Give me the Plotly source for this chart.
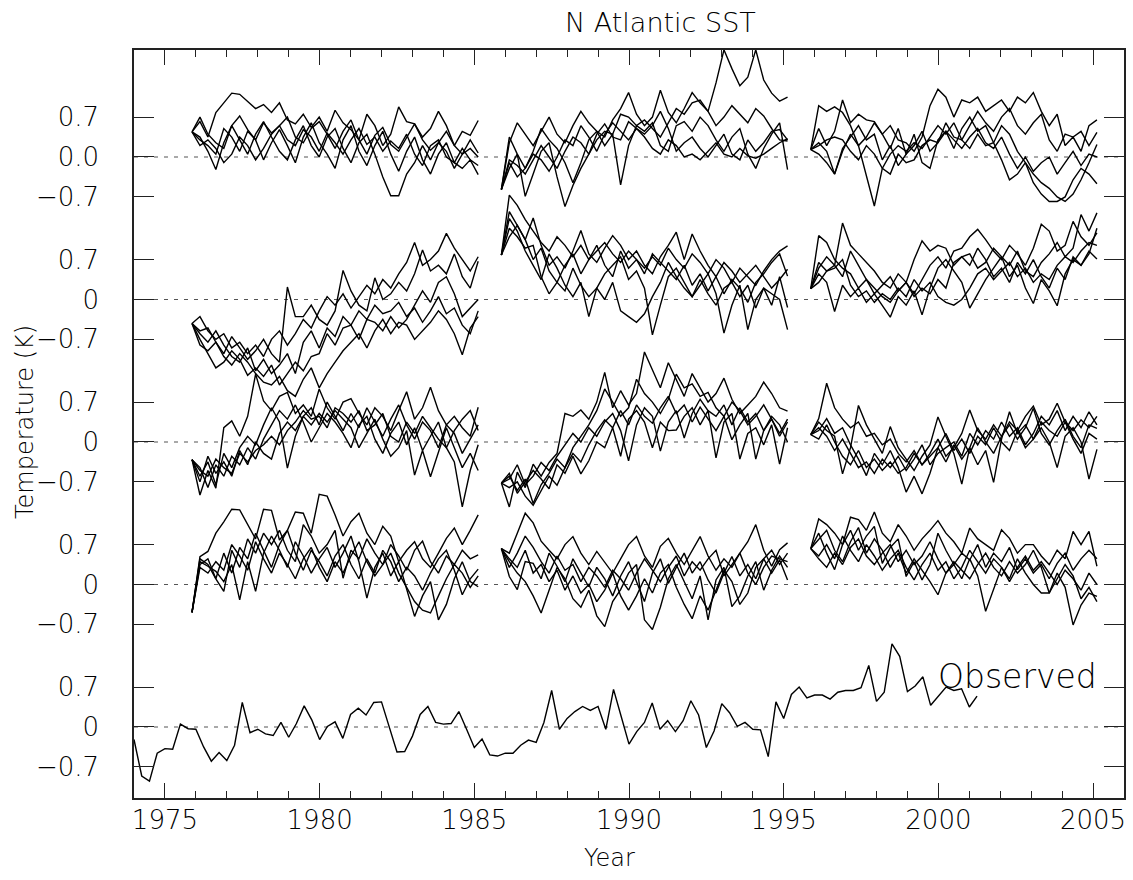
import numpy as np
import plotly.graph_objects as go

# ---------------- data (K anomalies, quarterly) ----------------
OBS_START = 1974.0
OBS_STEP = 0.25
OBS = [-0.22, -0.86, -0.95, -0.46, -0.38, -0.39, 0.05, -0.03, -0.04, -0.35,
       -0.60, -0.45, -0.59, -0.32, 0.43, -0.10, -0.04, -0.12, -0.15, 0.08,
       -0.18, 0.06, 0.37, 0.12, -0.22, 0.01, 0.09, -0.20, 0.22, 0.33,
       0.21, 0.43, 0.44, 0.01, -0.44, -0.43, -0.16, 0.22, 0.36, 0.08,
       0.05, 0.06, 0.27, -0.04, -0.36, -0.21, -0.49, -0.51, -0.46, -0.46,
       -0.32, -0.23, -0.27, 0.08, 0.64,
       -0.04, 0.15, 0.27, 0.36, 0.29, 0.36, -0.04, 0.66, 0.18, -0.30,
       -0.08, 0.08, 0.42, -0.04, 0.11, -0.08, 0.11, 0.46, 0.21, -0.36,
       -0.07, 0.41, 0.25, 0.01, 0.08, -0.04, -0.05, -0.52, 0.44, 0.15,
       0.57, 0.70, 0.51, 0.56, 0.56, 0.49, 0.61, 0.64, 0.64, 0.69,
       1.08, 0.45, 0.61, 1.46, 1.24, 0.62, 0.72, 0.88, 0.38, 0.55,
       0.70, 0.64, 0.67, 0.35, 0.54]

SEG_STARTS = [1975.875, 1985.875, 1995.875]
SEG_SPAN = 9.25
PANEL_OFFSETS = [10.0, 7.5, 5.0, 2.5]   # vertical stacking of the 4 hindcast panels
OBS_OFFSET = 0.0

# Panel 1 (top)
P1_A = [
    [0.44,0.62,0.35,0.78,0.95,1.12,1.10,0.98,0.85,0.92,0.78,0.95,0.65,0.58,0.75,0.52,0.70,0.45,0.82,0.60,0.48,0.30,0.75,0.55,0.20,0.40,0.88,0.62,0.58,0.35,0.50,0.80,0.55,0.20,0.45,0.38,0.64],
    [0.44,0.70,0.40,0.25,0.15,0.55,0.72,0.48,0.30,0.60,0.42,0.55,0.70,0.35,0.25,0.50,0.62,0.40,0.15,0.45,0.65,0.30,0.05,0.38,0.52,0.22,0.10,0.35,0.58,0.30,0.12,0.25,0.45,0.20,0.05,0.30,0.07],
    [0.44,0.35,0.10,-0.22,0.25,0.55,0.30,0.05,0.40,0.62,0.35,0.10,-0.05,0.30,0.55,0.20,0.00,0.35,0.50,0.15,-0.10,0.25,0.40,0.05,-0.35,-0.68,-0.68,-0.30,-0.10,0.20,-0.05,0.25,0.10,-0.20,0.05,0.15,0.00],
    [0.44,0.30,0.20,0.05,0.50,0.35,0.10,0.45,0.30,-0.05,0.25,0.48,0.20,-0.10,0.35,0.60,0.25,0.05,-0.20,0.30,0.55,0.10,-0.15,0.20,0.45,0.05,-0.25,0.10,0.35,-0.05,-0.30,0.05,0.25,-0.10,-0.20,-0.05,-0.31],
    [0.44,0.20,0.30,0.15,-0.10,0.05,0.35,0.20,-0.05,0.15,0.40,0.55,0.30,0.20,0.48,0.35,0.10,0.42,0.25,0.05,0.30,0.50,0.22,0.35,0.10,0.28,0.15,0.40,0.05,-0.15,0.20,0.30,0.00,-0.10,0.15,-0.05,-0.15],
]
P1_B = [
    [-0.57,0.25,0.60,0.40,0.20,0.45,0.70,0.40,0.25,0.55,0.80,0.60,0.45,0.35,0.65,0.85,1.13,0.75,0.55,0.70,1.17,0.78,0.60,0.85,1.13,0.95,0.80,1.30,1.88,1.55,1.25,1.40,1.88,1.35,1.12,0.98,1.05],
    [-0.57,0.35,0.05,-0.20,0.10,0.50,0.30,0.15,-0.10,-0.45,-0.10,0.30,0.45,0.20,0.40,0.75,0.70,0.55,0.65,0.50,0.35,0.60,0.85,0.75,0.95,1.00,0.80,0.55,0.70,0.90,0.75,0.60,0.85,0.72,0.50,0.30,0.28],
    [-0.57,-0.20,0.05,-0.69,-0.30,0.10,0.25,-0.35,-0.87,-0.50,-0.20,0.05,0.30,0.45,0.40,-0.49,0.20,0.55,0.45,0.60,0.20,0.10,0.55,0.62,0.45,0.70,0.55,0.30,0.10,0.35,0.50,0.05,-0.20,0.15,0.40,0.60,-0.22],
    [-0.57,-0.05,-0.15,-0.30,-0.05,0.20,0.00,-0.20,0.10,0.35,0.25,0.05,0.40,0.58,0.35,0.30,0.62,0.50,0.40,0.55,0.80,0.50,0.10,0.25,0.35,0.15,0.00,0.20,0.40,0.05,-0.05,0.30,0.10,0.25,0.45,0.48,0.30],
    [-0.57,-0.10,-0.35,-0.20,0.05,-0.05,-0.25,0.00,0.30,0.20,0.55,0.35,0.10,0.40,0.60,0.45,0.30,0.50,0.35,0.15,0.05,0.30,0.20,0.00,0.05,-0.05,0.10,0.25,0.05,0.00,0.15,0.02,-0.02,0.05,0.15,0.25,0.32],
]
P1_C = [
    [0.13,0.90,0.80,0.88,0.78,0.55,0.20,0.35,0.60,0.40,0.55,0.30,0.25,0.10,0.35,0.90,1.19,1.05,0.70,1.00,0.95,1.05,0.80,0.90,1.00,0.80,1.05,0.95,1.13,0.80,0.55,0.75,0.20,0.35,0.10,0.55,0.65],
    [0.13,0.50,0.20,0.45,1.00,0.60,0.75,0.65,0.62,0.40,0.15,0.50,0.05,0.20,0.45,0.10,0.25,0.60,0.35,0.30,0.55,0.80,0.60,0.45,0.70,0.85,0.55,0.40,0.60,0.75,0.30,0.10,0.40,0.35,0.45,0.20,0.43],
    [0.13,0.05,-0.10,-0.30,0.10,0.40,0.20,-0.35,-0.86,-0.20,0.05,0.20,0.10,0.25,0.15,0.35,0.55,0.40,0.60,0.30,0.15,0.40,0.20,0.25,0.55,0.40,0.10,-0.10,-0.30,-0.45,-0.55,-0.70,-0.78,-0.65,-0.40,-0.10,0.22],
    [0.13,0.25,0.10,-0.30,0.15,0.35,0.55,0.30,0.40,-0.05,0.20,-0.15,0.05,0.40,-0.10,-0.20,0.30,0.45,0.15,0.50,0.70,0.45,0.55,0.25,-0.05,-0.40,-0.30,-0.10,-0.45,-0.65,-0.78,-0.78,-0.70,-0.40,-0.20,-0.30,-0.47],
    [0.13,0.20,0.30,0.35,0.30,0.10,-0.05,0.20,0.05,-0.20,-0.30,0.05,-0.10,-0.05,0.20,0.30,0.25,0.45,0.30,0.15,0.35,0.50,0.25,0.15,0.35,0.05,-0.20,0.00,-0.25,-0.10,0.00,-0.30,-0.10,0.10,-0.15,0.05,0.00],
]

# Panel 2
P2_A = [
    [-0.42,-0.30,-0.55,-0.70,-0.60,-0.85,-0.75,-0.95,-0.80,-1.00,-0.70,-0.55,-0.80,-0.60,-0.35,-0.50,-0.20,0.05,-0.10,0.10,-0.15,0.05,0.25,0.10,0.35,0.20,0.45,0.65,1.00,0.60,0.70,0.85,1.16,0.90,0.70,0.50,0.75],
    [-0.42,-0.55,-0.50,-0.75,-0.95,-0.65,-0.85,-1.05,-0.90,-0.70,-0.95,-1.10,0.22,-0.30,-0.30,-0.10,-0.35,-0.45,-0.20,0.51,0.15,-0.10,-0.20,0.38,0.00,0.10,0.30,0.15,0.45,0.87,0.50,0.60,0.45,0.80,0.40,0.20,0.67],
    [-0.42,-0.70,-0.95,-1.20,-1.10,-0.90,-1.05,-1.33,-1.20,-1.35,-1.15,-1.50,-1.30,-1.10,-1.25,-1.00,-0.95,-0.60,-0.80,-0.50,-0.45,-0.70,-0.35,-0.40,-0.55,-0.30,-0.50,-0.35,-0.10,0.15,-0.05,0.30,0.40,0.10,-0.30,-0.15,0.00],
    [-0.42,-0.80,-0.90,-0.75,-1.00,-1.15,-0.95,-1.10,-1.30,-1.45,-1.50,-1.35,-1.60,-1.70,-1.40,-1.20,-1.55,-1.30,-1.10,-0.90,-0.75,-0.60,-0.85,-0.55,-0.35,-0.60,-0.40,-0.45,-0.70,-0.55,-0.40,-0.20,-0.35,-0.60,-0.97,-0.50,-0.30],
    [-0.42,-0.60,-0.75,-0.55,-0.80,-1.00,-1.10,-0.85,-1.25,-1.05,-1.30,-1.15,-0.95,-1.30,-0.75,-0.55,-0.85,-0.50,-0.65,-0.30,-0.45,-0.20,-0.35,-0.10,-0.25,-0.20,-0.05,-0.30,-0.15,-0.40,-0.20,0.05,-0.25,-0.15,-0.45,-0.60,-0.20],
]
P2_B = [
    [0.78,1.83,1.65,1.40,1.20,1.00,0.85,1.10,0.95,0.75,0.95,0.70,0.85,1.00,0.80,0.65,0.85,0.70,0.55,0.75,0.60,0.90,0.70,0.55,0.80,0.65,0.45,0.70,0.55,0.30,0.55,0.40,0.25,0.50,0.70,0.85,0.94],
    [0.78,1.54,1.30,1.05,1.43,0.95,0.60,0.75,0.55,0.85,1.21,0.80,0.65,0.90,1.12,0.95,0.70,0.85,0.60,0.45,0.75,0.95,1.18,0.70,1.15,0.85,0.60,0.40,0.65,0.50,0.30,0.45,0.60,0.40,0.20,0.35,0.53],
    [0.78,1.42,1.20,0.85,0.60,0.35,0.80,0.55,0.25,0.05,0.30,-0.30,0.20,0.45,0.60,0.75,0.35,0.50,0.20,-0.62,-0.10,0.40,0.55,0.30,0.05,0.25,0.45,0.10,-0.59,-0.10,0.25,-0.53,0.00,0.20,-0.10,0.40,-0.14],
    [0.78,1.25,1.10,0.90,0.95,0.40,0.10,0.30,0.15,0.55,0.25,0.05,0.20,0.00,0.30,-0.20,-0.30,-0.40,-0.25,0.05,0.30,0.65,0.40,0.20,0.05,0.35,0.10,-0.10,0.20,0.30,0.05,0.25,-0.15,0.20,0.10,0.00,-0.53],
    [0.78,1.10,1.30,1.05,0.70,0.90,0.50,0.30,0.60,0.80,0.45,0.70,0.95,0.60,0.40,0.85,0.55,0.70,0.45,0.80,0.65,0.50,0.35,0.60,0.25,0.45,0.15,0.40,0.10,0.35,0.20,-0.05,0.30,0.45,0.65,0.80,0.41],
]
P2_C = [
    [0.19,0.55,0.75,0.60,1.34,0.95,0.80,0.65,0.50,0.30,0.20,0.45,0.30,0.10,0.35,0.60,0.75,0.55,0.85,0.90,1.10,1.23,1.05,0.85,0.70,0.95,0.80,0.60,0.90,1.32,1.20,0.85,0.95,1.37,1.10,0.95,1.17],
    [0.19,1.12,1.00,0.70,0.55,0.45,0.20,0.35,0.10,0.25,0.40,0.15,0.30,0.70,1.03,0.85,0.95,0.90,0.60,0.75,0.80,0.55,0.65,0.90,0.75,0.60,0.85,0.50,0.40,0.65,0.80,1.00,0.75,0.90,1.49,1.20,1.52],
    [0.19,0.45,0.30,-0.21,0.25,0.05,0.20,-0.05,0.10,-0.10,-0.31,0.05,-0.10,0.15,-0.27,0.20,0.55,0.70,0.50,0.30,-0.15,0.10,0.35,0.55,0.75,0.40,0.60,0.20,-0.07,0.35,0.15,-0.11,0.45,0.70,0.60,0.85,0.71],
    [0.19,0.65,0.50,0.60,0.40,0.85,0.60,0.35,0.20,0.05,-0.05,0.15,0.30,0.05,0.20,0.10,0.35,0.20,0.65,0.75,0.60,0.90,0.70,0.40,0.55,0.30,0.65,0.45,0.70,0.40,0.20,0.55,0.35,0.75,0.60,0.80,1.25],
    [0.19,0.30,0.50,0.55,0.70,0.25,0.05,0.15,-0.05,0.10,0.00,0.20,0.05,0.35,0.15,0.30,0.05,-0.05,-0.10,0.00,0.20,0.45,0.55,0.35,0.50,0.65,0.40,0.55,0.30,0.45,0.35,0.60,0.75,0.65,0.85,1.00,0.95],
]

# Panel 3
P3_A = [
    [-0.31,-0.93,-0.50,-0.81,0.25,0.37,0.10,0.45,1.19,0.72,0.55,0.80,0.87,0.50,0.65,0.45,0.93,0.60,0.40,0.70,0.76,0.50,0.30,0.60,0.45,0.20,0.55,0.88,0.40,0.60,0.96,0.55,0.30,0.45,0.25,0.10,0.61],
    [-0.31,-0.60,-0.35,-0.75,-0.20,-0.45,-0.10,0.10,-0.05,0.30,0.60,0.35,-0.46,0.10,0.45,0.60,0.30,0.70,0.45,0.20,0.50,0.25,0.60,0.35,0.10,0.40,0.65,0.30,0.05,0.35,0.20,-0.10,0.30,0.15,-0.20,0.05,0.30],
    [-0.31,-0.45,-0.80,-0.40,-0.60,-0.25,-0.40,-0.10,-0.30,0.05,0.30,0.55,0.40,0.65,0.35,0.00,0.25,0.50,0.35,0.15,-0.10,0.30,0.45,0.05,-0.20,0.15,0.35,-0.05,0.25,-0.15,0.10,0.35,-0.10,-0.35,-1.14,-0.50,-0.05],
    [-0.31,-0.70,-0.25,-0.55,-0.35,-0.60,-0.15,-0.40,0.00,-0.20,-0.30,0.15,0.35,0.20,0.45,0.30,0.50,0.35,0.55,0.40,0.25,-0.10,0.15,0.40,0.05,-0.25,-0.10,0.20,-0.58,-0.15,-0.61,-0.20,0.25,-0.10,-0.45,-0.20,-0.50],
    [-0.31,-0.50,-0.60,-0.30,-0.45,-0.55,-0.20,-0.35,-0.15,-0.05,0.10,-0.05,0.20,0.35,0.55,0.40,0.45,0.25,0.60,0.50,0.35,0.55,0.20,0.30,0.50,0.10,0.00,0.35,0.15,0.45,0.25,0.05,-0.10,0.20,0.40,0.55,0.20],
]
P3_B = [
    [-0.72,-1.14,-0.53,-0.80,-0.39,-0.60,-0.36,-0.20,0.50,0.45,0.56,0.40,0.70,1.22,0.60,0.90,0.65,0.85,1.58,1.25,0.95,1.39,1.10,0.80,1.20,0.95,0.70,0.85,1.12,0.75,0.50,0.65,0.80,1.05,0.85,0.60,0.54],
    [-0.72,-0.60,-0.85,-0.65,-1.08,-0.75,-0.55,-0.30,-0.45,-0.10,0.10,0.30,0.55,0.93,0.70,0.45,0.60,1.10,0.85,0.70,0.50,0.75,1.19,0.95,1.02,0.80,0.87,0.60,0.45,0.70,0.55,0.30,0.45,0.65,0.40,0.15,0.40],
    [-0.72,-0.80,-0.70,-0.95,-1.11,-0.85,-0.60,-0.76,-0.45,-0.20,-0.35,-0.05,0.20,0.39,0.25,0.55,0.30,0.65,0.45,0.33,0.60,0.80,0.50,0.65,0.35,0.61,0.40,0.20,0.45,0.04,0.30,0.50,-0.30,0.20,0.40,0.10,0.35],
    [-0.72,-0.55,-0.90,-0.70,-0.50,-0.65,-0.82,-0.40,-0.55,-0.25,-0.56,-0.33,0.00,-0.10,0.25,-0.25,0.40,0.55,0.35,-0.10,0.35,0.20,0.21,0.45,0.60,0.30,0.55,-0.28,0.35,0.50,-0.30,0.15,0.25,-0.05,0.30,-0.39,0.25],
    [-0.72,-0.65,-0.40,-0.75,-0.60,-0.36,-0.50,-0.25,-0.05,0.15,0.00,0.25,0.10,0.35,0.50,0.20,-0.33,0.30,0.60,0.45,-0.16,0.35,0.55,0.07,0.50,0.75,0.55,0.45,0.65,0.30,0.60,0.35,0.50,0.20,0.45,0.30,0.00],
]
P3_C = [
    [0.13,0.41,1.03,0.60,0.40,0.25,0.35,0.10,0.15,-0.05,0.05,-0.20,-0.35,-0.15,-0.40,-0.20,0.05,-0.25,-0.10,0.15,0.56,0.20,0.05,0.30,0.10,0.35,0.20,0.45,0.63,0.30,0.40,0.68,0.35,0.20,0.39,0.25,0.45],
    [0.13,0.35,0.20,0.10,-0.56,-0.10,0.64,0.30,0.05,-0.20,0.27,-0.10,-0.30,-0.50,-0.25,-0.05,0.44,0.10,-0.20,-0.74,-0.10,0.25,0.00,-0.20,0.10,0.30,0.05,0.25,0.59,0.15,-0.05,0.20,0.40,0.10,-0.10,0.30,0.24],
    [0.13,0.20,0.41,0.15,0.25,-0.05,-0.30,-0.59,-0.20,-0.40,-0.15,-0.45,-0.88,-0.60,-0.91,-0.55,-0.10,-0.35,-0.05,-0.30,-0.10,-0.40,-0.15,-0.71,0.05,0.53,0.15,0.30,0.05,0.25,0.00,-0.45,0.10,0.25,0.00,-0.65,-0.13],
    [0.13,0.05,0.30,0.00,-0.25,-0.40,-0.15,-0.45,-0.30,-0.50,-0.35,-0.55,-0.45,-0.20,-0.40,-0.25,-0.10,0.15,-0.15,0.05,-0.20,0.10,-0.05,0.25,0.00,-0.15,0.20,-0.10,0.05,0.35,0.20,0.10,0.35,0.05,-0.20,0.15,0.05],
    [0.13,0.25,0.10,-0.15,0.05,-0.20,-0.45,-0.35,-0.55,-0.30,-0.45,-0.25,-0.50,-0.30,-0.05,-0.40,-0.20,-0.10,0.00,-0.25,0.15,-0.05,0.20,0.05,0.35,0.10,0.25,-0.05,0.15,0.45,0.30,0.55,0.20,0.45,0.25,0.53,0.30],
]

# Panel 4
P4_A = [
    [-0.49,0.49,0.58,0.90,1.10,1.32,1.31,1.05,0.80,1.32,1.30,0.78,0.95,1.27,1.25,0.90,1.58,1.55,1.22,0.85,1.10,1.25,0.90,0.70,1.02,0.85,0.40,0.60,0.75,0.45,0.30,0.55,0.81,0.99,0.70,0.95,1.22],
    [-0.49,0.45,0.35,0.10,-0.12,0.60,0.30,0.80,0.55,0.90,0.70,0.95,0.60,0.40,1.05,0.85,0.55,0.70,0.95,0.11,0.60,0.45,0.80,0.55,0.35,0.70,0.50,0.25,0.60,0.76,0.40,0.20,0.50,0.35,0.60,0.45,0.52],
    [-0.49,0.40,0.32,0.23,0.05,0.35,-0.27,0.40,-0.12,0.55,0.85,0.60,0.30,0.75,0.50,0.20,0.45,0.65,0.30,0.55,0.85,0.40,-0.24,0.30,0.55,0.15,0.40,-0.10,-0.56,-0.20,0.05,-0.62,-0.35,0.10,0.40,0.05,-0.04],
    [-0.49,0.35,0.45,0.10,0.55,0.20,0.65,0.45,0.90,0.60,0.30,0.70,0.95,0.55,0.25,0.60,0.40,0.15,0.50,0.70,0.35,0.10,0.45,0.20,0.60,0.40,0.05,0.30,0.15,-0.10,0.20,0.45,0.60,0.25,-0.18,0.10,0.27],
    [-0.49,0.30,0.20,0.40,0.25,0.70,0.50,0.25,0.75,0.45,0.20,0.55,0.35,0.10,0.45,0.65,0.30,0.05,0.40,0.20,0.50,0.75,0.40,0.15,0.35,0.55,0.20,-0.05,-0.30,-0.45,-0.50,-0.20,0.10,0.35,0.20,-0.05,0.15],
]
P4_B = [
    [0.63,0.55,0.90,1.25,1.08,0.76,0.60,0.45,0.70,0.84,0.55,0.35,0.58,0.40,0.20,0.45,0.70,0.84,0.50,0.30,0.67,0.81,0.55,0.35,0.60,0.84,0.50,0.25,0.45,0.30,0.55,0.75,1.05,0.60,0.32,0.61,0.73],
    [0.63,0.14,-0.09,0.40,0.37,0.10,0.55,0.32,0.05,0.45,0.20,-0.04,0.30,0.10,-0.20,0.15,0.40,0.05,-0.30,0.20,0.45,0.02,0.30,0.55,0.20,0.40,0.08,-0.15,0.20,0.49,0.15,0.35,0.10,0.45,0.20,0.43,0.08],
    [0.63,0.40,0.20,0.05,-0.20,-0.50,-0.10,0.30,0.10,-0.25,-0.40,-0.10,-0.55,-0.74,-0.30,-0.09,0.20,0.35,-0.62,-0.79,-0.40,0.10,0.35,0.05,-0.25,0.15,-0.62,0.08,0.30,-0.39,-0.20,0.15,0.40,-0.10,0.25,0.50,0.30],
    [0.63,0.45,0.30,0.60,0.20,0.35,0.05,0.25,-0.10,0.15,-0.15,0.00,-0.30,-0.10,0.20,-0.20,-0.45,-0.20,0.10,-0.15,0.20,0.35,-0.05,-0.35,-0.60,-0.20,-0.45,-0.10,0.25,0.05,-0.35,-0.15,0.30,0.45,0.60,0.35,0.55],
    [0.63,0.30,0.55,0.85,0.65,0.40,0.20,0.50,0.25,0.35,0.05,0.30,0.15,-0.05,0.25,0.10,-0.10,0.20,0.45,0.25,0.05,0.30,0.50,0.15,0.40,0.25,0.45,0.60,0.15,0.35,0.55,0.20,0.00,0.30,0.50,0.45,0.40],
]
P4_C = [
    [0.63,1.15,1.05,0.90,0.70,1.18,1.14,0.95,1.27,0.90,0.75,1.05,0.85,0.60,0.80,0.95,1.12,0.90,0.75,0.55,0.99,0.80,0.70,0.60,0.96,0.81,0.55,0.70,0.70,0.50,0.35,0.60,0.45,0.93,0.70,0.93,0.32],
    [0.63,0.90,0.55,0.26,0.70,0.95,0.60,0.85,1.02,0.37,0.65,0.80,0.14,0.40,0.08,0.35,0.90,0.60,0.35,0.55,0.43,0.70,0.30,0.55,0.40,0.65,0.26,0.45,0.20,0.35,0.10,0.37,0.55,0.25,0.45,0.60,0.45],
    [0.63,0.80,0.95,0.60,0.40,0.75,1.00,0.55,0.80,0.60,0.30,0.55,0.20,0.45,0.25,0.05,-0.18,0.20,0.35,0.10,0.45,0.15,-0.47,-0.10,0.30,0.10,0.45,0.20,0.00,-0.15,-0.15,0.20,-0.05,-0.71,-0.36,-0.15,-0.21],
    [0.63,0.50,0.70,0.45,0.85,0.60,0.40,0.70,0.50,0.25,0.45,0.60,0.30,0.08,0.35,0.55,0.25,0.40,0.10,0.30,0.60,0.40,0.20,0.45,0.30,0.05,0.30,0.50,0.25,0.40,0.20,0.00,0.25,0.10,-0.10,0.20,0.00],
    [0.63,0.45,0.30,0.55,0.35,0.65,0.80,0.50,0.35,0.55,0.70,0.40,0.60,0.35,0.50,0.75,0.45,0.20,0.40,0.25,0.10,0.35,0.55,0.30,0.15,0.40,0.20,0.35,0.60,0.30,-0.15,0.10,0.35,0.15,-0.25,-0.05,-0.30],
]

PANELS = [(P1_A, P1_B, P1_C), (P2_A, P2_B, P2_C), (P3_A, P3_B, P3_C), (P4_A, P4_B, P4_C)]

TITLE = "N Atlantic SST"
XLABEL = "Year"
YLABEL = "Temperature (K)"
OBS_LABEL = "Observed"

# ---------------- figure ----------------
FONT = "DejaVu Sans"
FW = 200
INK = "#222222"
TXT = "#000000"
fig = go.Figure()

for offset, segs in zip(PANEL_OFFSETS, PANELS):
    for start, members in zip(SEG_STARTS, segs):
        for m in members:
            xs = np.linspace(start, start + SEG_SPAN, len(m))
            fig.add_trace(go.Scatter(x=xs, y=np.array(m) + offset, mode="lines",
                                     line=dict(color="black", width=1.4),
                                     hoverinfo="skip", showlegend=False))

obs_x = OBS_START + OBS_STEP * np.arange(len(OBS))
fig.add_trace(go.Scatter(x=obs_x, y=np.array(OBS) + OBS_OFFSET, mode="lines",
                         line=dict(color="black", width=1.4), showlegend=False))

# zero lines
for off in PANEL_OFFSETS + [OBS_OFFSET]:
    fig.add_shape(type="line", xref="paper", x0=0, x1=1, yref="y", y0=off, y1=off,
                  line=dict(color="#555555", width=1.2, dash="4px,6px"), layer="below")

tickvals, ticktext = [], []
for off in PANEL_OFFSETS + [OBS_OFFSET]:
    tickvals += [off - 0.7, off, off + 0.7]
    ticktext += ["\u22120.7", "0.0" if off == PANEL_OFFSETS[0] else "0", "0.7"]

fig.update_layout(
    width=1133, height=880,
    margin=dict(l=134, r=7, t=50, b=82),
    plot_bgcolor="white", paper_bgcolor="white",
    font=dict(family=FONT, size=26, color=TXT, weight=FW),
    showlegend=False,
)
fig.update_xaxes(range=[1974, 2006], tickmode="linear", tick0=1975, dtick=5,
                 ticks="inside", ticklen=15, tickwidth=1.3, tickcolor=INK,
                 showline=True, linecolor=INK, linewidth=1.5, mirror="ticks",
                 showgrid=False, zeroline=False, ticklabelstandoff=-2,
                 tickfont=dict(family=FONT, size=26, color=TXT, weight=FW),
                 minor=dict(tick0=1974, dtick=1, ticks="inside", ticklen=7,
                            tickwidth=1.2, tickcolor=INK, showgrid=False))
fig.update_yaxes(range=[-1.246, 11.877], tickmode="array", tickvals=tickvals, ticktext=ticktext,
                 ticks="inside", ticklen=20, tickwidth=1.3, tickcolor=INK,
                 showline=True, linecolor=INK, linewidth=1.5, mirror="ticks",
                 showgrid=False, zeroline=False, ticklabelstandoff=28,
                 tickfont=dict(family=FONT, size=26, color=TXT, weight=FW))

fig.add_annotation(text=TITLE, xref="paper", yref="paper", x=0.532, y=1 + 28 / 748,
                   xanchor="center", yanchor="middle", showarrow=False,
                   font=dict(family=FONT, size=27, color=TXT, weight=FW))
fig.add_annotation(text=XLABEL, xref="paper", yref="paper", x=0.48, y=-60 / 748,
                   xanchor="center", yanchor="middle", showarrow=False,
                   font=dict(family=FONT, size=24, color=TXT, weight=FW))
fig.add_annotation(text=YLABEL, xref="paper", yref="paper", x=-109 / 992, y=0.503,
                   xanchor="center", yanchor="middle", showarrow=False, textangle=-90,
                   font=dict(family=FONT, size=24, color=TXT, weight=FW))
fig.add_annotation(text=OBS_LABEL, xref="x", yref="y", x=2002.55, y=0.89,
                   xanchor="center", yanchor="middle", showarrow=False,
                   font=dict(family=FONT, size=33, color=TXT, weight=FW))

fig.write_html("out.html")
